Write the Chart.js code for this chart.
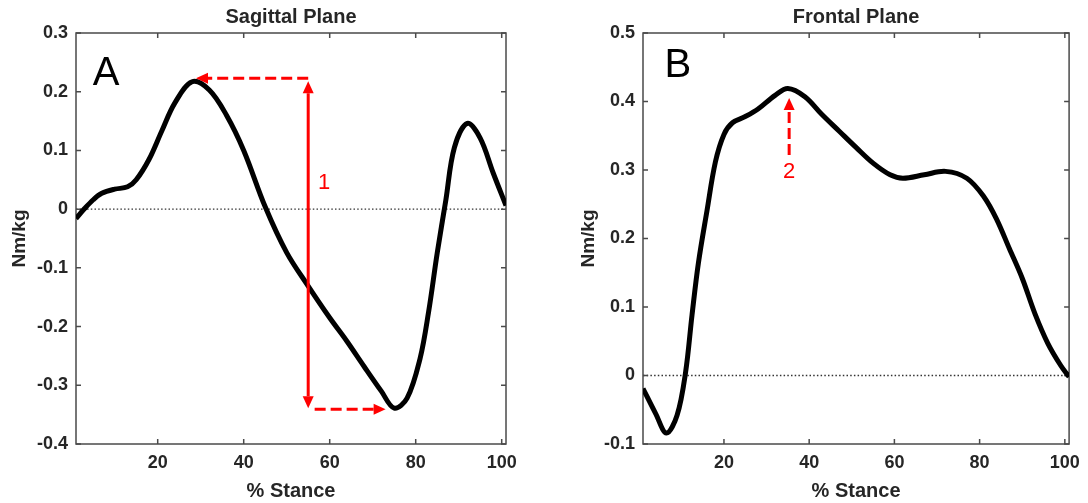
<!DOCTYPE html>
<html>
<head>
<meta charset="utf-8">
<script src="https://cdn.jsdelivr.net/npm/chart.js@4.4.1/dist/chart.umd.min.js"></script>
<style>
  html, body { margin: 0; padding: 0; background: #fff; }
  #wrap { position: relative; width: 1088px; height: 503px; }
  .panel { position: absolute; top: 0; width: 544px; height: 503px; }
</style>
</head>
<body>
<div id="wrap">
  <div class="panel" style="left:0"><canvas id="sagittal" width="544" height="503"></canvas></div>
  <div class="panel" style="left:544px"><canvas id="frontal" width="544" height="503"></canvas></div>
</div>
<script>
// % stance ticks shared by both panels
const stanceTicks = [20, 40, 60, 80, 100];
const sagittalTicks = [-0.4, -0.3, -0.2, -0.1, 0, 0.1, 0.2, 0.3];
const frontalTicks = [-0.1, 0, 0.1, 0.2, 0.3, 0.4, 0.5];

// sagittal plane moment (Nm/kg)
const sagittalStance = [1, 3, 5, 7, 10, 13, 15, 18, 21, 24, 28, 32, 36, 40, 45, 50, 55, 60, 64, 68, 72, 75, 78, 81, 83, 85, 87, 89, 92, 95, 98, 101];
const sagittalMoment = [-0.016, 0.001, 0.016, 0.027, 0.034, 0.038, 0.050, 0.085, 0.134, 0.181, 0.217, 0.203, 0.160, 0.100, 0.004, -0.074, -0.131, -0.185, -0.225, -0.268, -0.310, -0.339, -0.322, -0.255, -0.175, -0.075, 0.015, 0.105, 0.146, 0.121, 0.062, 0.006];

// frontal plane moment (Nm/kg)
const frontalStance = [1, 4, 6.5, 9, 11, 12.5, 14, 16, 18, 20, 22, 25, 28, 32, 35, 39, 43, 47, 51, 55, 59, 62, 67, 72, 77, 81, 84, 87, 90, 93, 96, 99, 101];
const frontalMoment = [-0.019, -0.056, -0.084, -0.058, 0.005, 0.088, 0.164, 0.240, 0.312, 0.352, 0.369, 0.378, 0.389, 0.409, 0.419, 0.407, 0.381, 0.357, 0.333, 0.310, 0.293, 0.288, 0.293, 0.298, 0.288, 0.261, 0.228, 0.185, 0.142, 0.090, 0.047, 0.015, -0.002];

// red markers: range between sagittal peaks (1) and frontal peak (2)
const sagittalArrows = [
  { from: [55, -0.339], to: [55, 0.218], both: true },
  { from: [55, 0.223], to: [28.9, 0.223], dashed: true },
  { from: [56.5, -0.341], to: [73, -0.341], dashed: true }
];
const frontalArrows = [
  { from: [35.3, 0.322], to: [35.3, 0.405], dashed: true }
];

const FONT = '"Liberation Sans", Arial, Helvetica, sans-serif';
const INK = '#262626';
const RED = '#ff0000';

function fmt(v) {
  return String(+v.toFixed(1));
}

function head(ctx, x0, y0, x1, y1, len, half) {
  const a = Math.atan2(y1 - y0, x1 - x0);
  ctx.beginPath();
  ctx.moveTo(x1, y1);
  ctx.lineTo(x1 - len * Math.cos(a) + half * Math.sin(a), y1 - len * Math.sin(a) - half * Math.cos(a));
  ctx.lineTo(x1 - len * Math.cos(a) - half * Math.sin(a), y1 - len * Math.sin(a) + half * Math.cos(a));
  ctx.closePath();
  ctx.fill();
}

function drawArrow(ctx, p0, p1, a) {
  const len = 12, half = 5.5;
  const d = Math.hypot(p1[0] - p0[0], p1[1] - p0[1]);
  const ux = (p1[0] - p0[0]) / d, uy = (p1[1] - p0[1]) / d;
  const s = a.both ? [p0[0] + ux * len, p0[1] + uy * len] : p0;
  const e = [p1[0] - ux * len, p1[1] - uy * len];
  ctx.save();
  ctx.strokeStyle = RED;
  ctx.fillStyle = RED;
  ctx.lineWidth = 3;
  ctx.setLineDash(a.dashed ? [11, 5] : []);
  ctx.beginPath();
  ctx.moveTo(s[0], s[1]);
  ctx.lineTo(e[0], e[1]);
  ctx.stroke();
  ctx.setLineDash([]);
  head(ctx, p0[0], p0[1], p1[0], p1[1], len, half);
  if (a.both) head(ctx, p1[0], p1[1], p0[0], p0[1], len, half);
  ctx.restore();
}

// frame, inward ticks, zero line, title and red notes
function notes(spec) {
  return {
    id: 'notes',
    beforeDatasetsDraw(chart) {
      const { ctx, chartArea: ca, scales } = chart;
      const y0 = scales.y.getPixelForValue(0);
      ctx.save();
      ctx.strokeStyle = '#333';
      ctx.lineWidth = 1.3;
      ctx.setLineDash([1.5, 2.2]);
      ctx.beginPath();
      ctx.moveTo(ca.left, y0);
      ctx.lineTo(ca.right, y0);
      ctx.stroke();
      ctx.setLineDash([]);

      ctx.strokeStyle = '#4a4a4a';
      ctx.lineWidth = 1.5;
      ctx.strokeRect(ca.left, ca.top, ca.right - ca.left, ca.bottom - ca.top);
      ctx.beginPath();
      stanceTicks.forEach(v => {
        const x = scales.x.getPixelForValue(v);
        ctx.moveTo(x, ca.bottom); ctx.lineTo(x, ca.bottom - 5);
        ctx.moveTo(x, ca.top); ctx.lineTo(x, ca.top + 5);
      });
      spec.yTicks.forEach(v => {
        const y = scales.y.getPixelForValue(v);
        ctx.moveTo(ca.left, y); ctx.lineTo(ca.left + 5, y);
        ctx.moveTo(ca.right, y); ctx.lineTo(ca.right - 5, y);
      });
      ctx.stroke();

      ctx.fillStyle = INK;
      ctx.font = 'bold 20px ' + FONT;
      ctx.textAlign = 'center';
      ctx.textBaseline = 'middle';
      ctx.fillText(spec.title, (ca.left + ca.right) / 2, 17);
      ctx.restore();
    },
    afterDatasetsDraw(chart) {
      const { ctx, scales } = chart;
      const P = (p) => [scales.x.getPixelForValue(p[0]), scales.y.getPixelForValue(p[1])];
      spec.arrows.forEach(a => drawArrow(ctx, P(a.from), P(a.to), a));
      ctx.save();
      ctx.textAlign = 'center';
      ctx.textBaseline = 'middle';
      ctx.fillStyle = '#000';
      ctx.font = '40px ' + FONT;
      const L = P(spec.letterAt);
      ctx.fillText(spec.letter, L[0], L[1]);
      ctx.fillStyle = RED;
      ctx.font = '22px ' + FONT;
      const N = P(spec.numberAt);
      ctx.fillText(spec.number, N[0], N[1]);
      ctx.restore();
    }
  };
}

function panel(id, spec) {
  const points = spec.xs.map((x, i) => ({ x: x, y: spec.ys[i] }));
  new Chart(document.getElementById(id), {
    type: 'line',
    data: {
      datasets: [{
        data: points,
        borderColor: '#000',
        borderWidth: 5,
        pointRadius: 0,
        tension: 0.35,
        fill: false
      }]
    },
    options: {
      responsive: false,
      animation: false,
      events: [],
      layout: { padding: { top: 33, right: spec.padRight, bottom: 0, left: 0 } },
      plugins: { legend: { display: false }, tooltip: { enabled: false } },
      scales: {
        x: {
          type: 'linear',
          min: 1,
          max: 101,
          border: { display: false },
          grid: { display: false, drawTicks: false },
          afterBuildTicks: s => { s.ticks = stanceTicks.map(v => ({ value: v })); },
          afterFit: s => { s.height = 59; },
          ticks: {
            color: INK,
            padding: 8,
            maxRotation: 0,
            font: { family: FONT, size: 18, weight: 'bold' }
          },
          title: {
            display: true,
            text: '% Stance',
            color: INK,
            padding: { top: 0, bottom: 0 },
            font: { family: FONT, size: 20, weight: 'bold' }
          }
        },
        y: {
          type: 'linear',
          min: spec.yTicks[0],
          max: spec.yTicks[spec.yTicks.length - 1],
          border: { display: false },
          grid: { display: false, drawTicks: false },
          afterBuildTicks: s => { s.ticks = spec.yTicks.map(v => ({ value: v })); },
          afterFit: s => { s.width = spec.axisWidth; },
          ticks: {
            color: INK,
            padding: 8,
            callback: v => fmt(v),
            font: { family: FONT, size: 18, weight: 'bold' }
          },
          title: {
            display: true,
            text: 'Nm/kg',
            color: INK,
            padding: { top: spec.titleGap, bottom: 0 },
            font: { family: FONT, size: 19, weight: 'bold' }
          }
        }
      }
    },
    plugins: [notes(spec)]
  });
}

panel('sagittal', {
  title: 'Sagittal Plane',
  xs: sagittalStance,
  ys: sagittalMoment,
  yTicks: sagittalTicks,
  axisWidth: 76,
  padRight: 38,
  titleGap: 8.6,
  arrows: sagittalArrows,
  letter: 'A',
  letterAt: [8, 0.230],
  number: '1',
  numberAt: [58.7, 0.045]
});

panel('frontal', {
  title: 'Frontal Plane',
  xs: frontalStance,
  ys: frontalMoment,
  yTicks: frontalTicks,
  axisWidth: 99,
  padRight: 15,
  titleGap: 33.6,
  arrows: frontalArrows,
  letter: 'B',
  letterAt: [9.2, 0.452],
  number: '2',
  numberAt: [35.3, 0.297]
});
</script>
</body>
</html>
